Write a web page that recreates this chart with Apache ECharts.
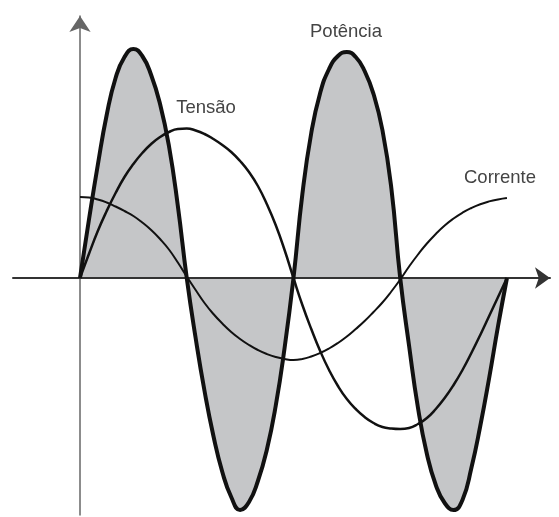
<!DOCTYPE html>
<html>
<head>
<meta charset="utf-8">
<script src="https://cdn.jsdelivr.net/npm/echarts@6/dist/echarts.min.js"></script>
<style>
  html, body { margin: 0; padding: 0; background: #fff; }
  #chart { width: 559px; height: 517px; }
</style>
</head>
<body>
<div id="chart"></div>
<script>
// angulo (graus) e valores
var angulos = [0, 7.5, 15, 22.5, 30, 37.5, 45, 52.5, 60, 67.5, 75, 82.5, 90,
  97.5, 105, 112.5, 120, 127.5, 135, 142.5, 150, 157.5, 165, 172.5, 180,
  187.5, 195, 202.5, 210, 217.5, 225, 232.5, 240, 247.5, 255, 262.5, 270,
  277.5, 285, 292.5, 300, 307.5, 315, 322.5, 330, 337.5, 345, 352.5, 360];
var tensao = [0, 24, 47, 67, 85, 101, 114, 125, 134, 141, 146, 149, 149.5,
  147.5, 144, 139, 133, 126, 117, 106, 92, 74, 53, 28, 0,
  -27, -51, -73, -92, -108, -121, -131, -139, -145, -149, -150.5, -151,
  -150, -146, -140, -131, -120, -107, -92, -75, -57, -38, -19, 0];
var corrente = [81, 80.5, 78.5, 75.5, 71.5, 67, 62, 55.5, 48, 39, 28.5, 15.5, 1.5,
  -12, -25, -36, -45.5, -54, -61, -67, -72, -76, -79, -81, -82,
  -81, -78.5, -75, -70.5, -65, -58.5, -51, -43, -34, -24.5, -13.5, -1.5,
  11.5, 23.5, 34.5, 44, 52.5, 59.5, 65.3, 70, 73.8, 76.6, 78.6, 80];
var potencia = [0, 58, 113, 163, 200, 221, 229, 222, 203, 174, 132, 72, 0,
  -60, -113, -158, -194, -219, -232, -224, -203, -172, -128, -70, 0,
  84, 145, 185, 209, 222, 226, 221, 207, 184, 148, 90, 0,
  -68, -130, -176, -207, -225, -232, -222, -190, -148, -100, -48, 0];

function pares(valores) {
  return angulos.map(function(a, i) {
    return [a, valores[i]];
  });
}

var el = document.getElementById("chart");
var em = echarts.init(el);

var textoStyle = {
  fill: "#444",
  fontSize: 18.5,
  fontFamily: "Liberation Sans, Arial, sans-serif",
  align: "center",
  verticalAlign: "middle"
};

em.setOption({
  animation: false,
  grid: {
    left: 13,
    right: 9,
    top: 16,
    bottom: 2
  },
  xAxis: {
    type: "value",
    min: -56.5,
    max: 396.3,
    z: 2,
    axisLine: {
      onZero: true,
      symbol: ["none", "arrow"],
      symbolSize: [16, 15],
      lineStyle: { color: "#333", width: 2 }
    },
    axisTick: { show: false },
    axisLabel: { show: false },
    splitLine: { show: false }
  },
  yAxis: {
    type: "value",
    min: -237,
    max: 262,
    z: 2,
    axisLine: {
      show: true,
      onZero: true,
      symbol: ["none", "arrow"],
      symbolSize: [16, 16],
      lineStyle: { color: "#666", width: 1.5 }
    },
    axisTick: { show: false },
    axisLabel: { show: false },
    splitLine: { show: false }
  },
  series: [
    {
      // preenchimento cinza da potencia
      type: "line",
      z: 1,
      smooth: 0.5,
      showSymbol: false,
      lineStyle: { width: 0 },
      areaStyle: { color: "#c5c6c8", opacity: 1 },
      data: pares(potencia)
    },
    {
      name: "Potência",
      type: "line",
      z: 3,
      smooth: 0.5,
      showSymbol: false,
      lineStyle: { color: "#111", width: 4 },
      data: pares(potencia)
    },
    {
      name: "Tensão",
      type: "line",
      z: 3,
      smooth: 0.5,
      showSymbol: false,
      lineStyle: { color: "#111", width: 2.5 },
      data: pares(tensao)
    },
    {
      name: "Corrente",
      type: "line",
      z: 3,
      smooth: 0.5,
      showSymbol: false,
      lineStyle: { color: "#111", width: 2 },
      data: pares(corrente)
    }
  ],
  graphic: [
    { type: "text", x: 346, y: 32, style: Object.assign({ text: "Potência" }, textoStyle) },
    { type: "text", x: 206, y: 108, style: Object.assign({ text: "Tensão" }, textoStyle) },
    { type: "text", x: 500, y: 178, style: Object.assign({ text: "Corrente" }, textoStyle) }
  ]
});
</script>
</body>
</html>
